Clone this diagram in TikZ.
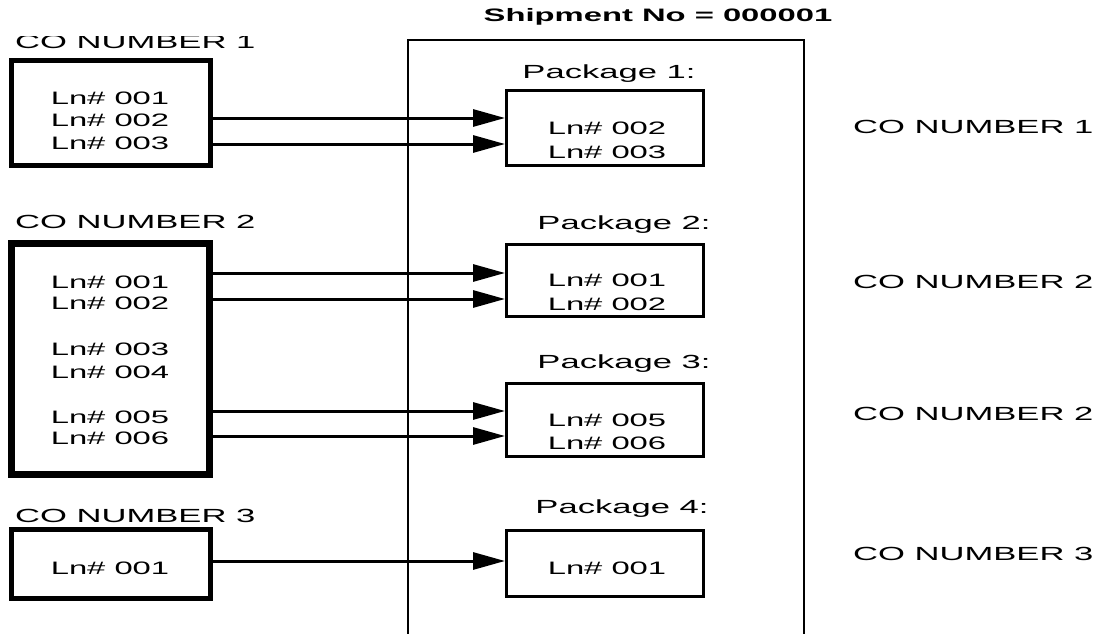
\documentclass[tikz,border=0pt]{standalone}
\usepackage{fontspec}
\setmainfont{Liberation Sans}[FakeStretch=1.82]
\usetikzlibrary{arrows.meta}

\begin{document}
\begin{tikzpicture}[
  x=1pt, y=-1pt,
  cobox/.style={draw, line width=5pt, minimum width=199pt, inner sep=0pt},
  pkbox/.style={draw, line width=3pt, minimum width=197pt, inner sep=0pt},
  ln/.style={anchor=base, inner sep=0pt, font=\fontsize{18}{21}\selectfont},
  lbl/.style={anchor=base west, inner sep=0pt, font=\fontsize{19}{22}\selectfont},
  pklbl/.style={anchor=base, inner sep=0pt, font=\fontsize{19}{22}\selectfont},
  move/.style={line width=3pt, -{Triangle[length=32pt, width=17pt]}}
]
\useasboundingbox (0,0) rectangle (1109,634);

% Shipment frame
\node[anchor=base, inner sep=0pt, font=\fontsize{18}{21}\selectfont\bfseries] (title) at (658,22) {Shipment No = 000001};
\draw[line width=1.5pt] (408,634) |- (804,40) -- (804,634);

% Order boxes (left)
\begin{scope}
  \clip (0,37) rectangle (400,60);
  \node[lbl] (co1lbl) at (15,49) {CO NUMBER 1};
\end{scope}
\node[cobox, minimum height=105pt] (co1) at (111,113) {};
\node[ln] (c11) at (110,104.5) {Ln\# 001};
\node[ln] (c12) at (110,126.5) {Ln\# 002};
\node[ln] (c13) at (110,149.5) {Ln\# 003};

\node[lbl] (co2lbl) at (15,228) {CO NUMBER 2};
\node[cobox, line width=7pt, minimum width=198pt, minimum height=231pt] (co2) at (110.5,359) {};
\node[ln] (c21) at (110,288.5) {Ln\# 001};
\node[ln] (c22) at (110,309.5) {Ln\# 002};
\node[ln] (c23) at (110,355.5) {Ln\# 003};
\node[ln] (c24) at (110,378.5) {Ln\# 004};
\node[ln] (c25) at (110,423.5) {Ln\# 005};
\node[ln] (c26) at (110,444.5) {Ln\# 006};

\node[lbl] (co3lbl) at (15,522) {CO NUMBER 3};
\node[cobox, minimum height=69pt] (co3) at (111,564) {};
\node[ln] (c31) at (110,574.5) {Ln\# 001};

% Packages (inside shipment)
\node[pklbl] (pk1lbl) at (609,78) {Package 1:};
\node[pkbox, minimum height=75pt] (pk1) at (605,128) {};
\node[ln] (p12) at (607,134.5) {Ln\# 002};
\node[ln] (p13) at (607,158.5) {Ln\# 003};

\node[pklbl] (pk2lbl) at (624,229) {Package 2:};
\node[pkbox, minimum height=72pt] (pk2) at (605,280.5) {};
\node[ln] (p21) at (607,286.5) {Ln\# 001};
\node[ln] (p22) at (607,310.5) {Ln\# 002};

\node[pklbl] (pk3lbl) at (624,368) {Package 3:};
\node[pkbox, minimum height=73pt] (pk3) at (605,420) {};
\node[ln] (p35) at (607,426.5) {Ln\# 005};
\node[ln] (p36) at (607,449.5) {Ln\# 006};

\node[pklbl] (pk4lbl) at (622,513) {Package 4:};
\node[pkbox, minimum height=66pt] (pk4) at (605,563.5) {};
\node[ln] (p41) at (607,574.5) {Ln\# 001};

% Order of each package (right)
\node[lbl] (r1) at (853,133) {CO NUMBER 1};
\node[lbl] (r2) at (853,288) {CO NUMBER 2};
\node[lbl] (r3) at (853,420) {CO NUMBER 2};
\node[lbl] (r4) at (853,560) {CO NUMBER 3};

% Lines moved into packages
\draw[move] (co1.east |- 0,118) -- (pk1.west |- 0,118);
\draw[move] (co1.east |- 0,144) -- (pk1.west |- 0,144);
\draw[move] (co2.east |- 0,273) -- (pk2.west |- 0,273);
\draw[move] (co2.east |- 0,299) -- (pk2.west |- 0,299);
\draw[move] (co2.east |- 0,411) -- (pk3.west |- 0,411);
\draw[move] (co2.east |- 0,436) -- (pk3.west |- 0,436);
\draw[move] (co3.east |- 0,561) -- (pk4.west |- 0,561);
\end{tikzpicture}
\end{document}
